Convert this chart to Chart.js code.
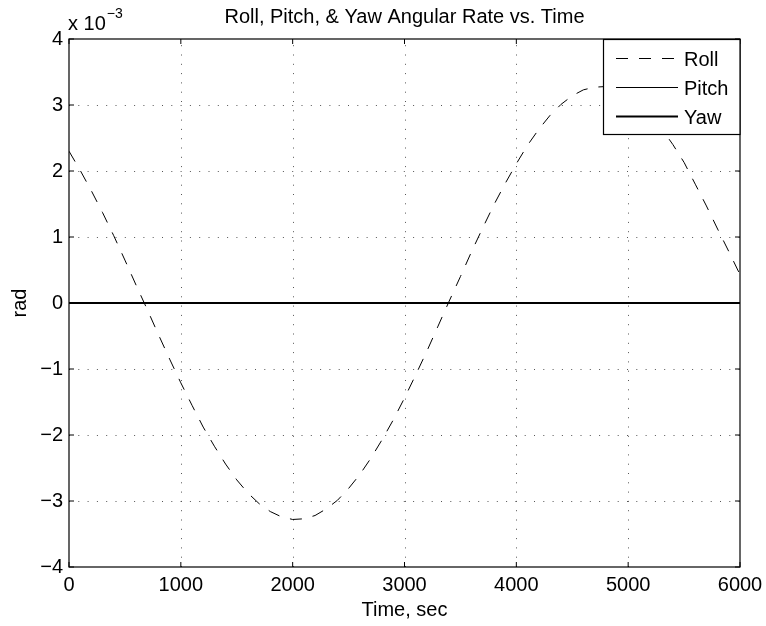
<!DOCTYPE html>
<html>
<head>
<meta charset="utf-8">
<title>Roll, Pitch, & Yaw Angular Rate vs. Time</title>
<script src="https://cdn.jsdelivr.net/npm/chart.js@4/dist/chart.umd.min.js"></script>
<style>
  html, body { margin: 0; padding: 0; background: #fff; }
  canvas { display: block; }
</style>
</head>
<body>
<canvas id="rates" width="766" height="626"></canvas>
<script>
// Sample times (s) for the roll channel
const rollTime = [
  0, 100, 200, 300, 400, 500, 600, 700, 800, 900,
  1000, 1100, 1200, 1300, 1400, 1500, 1600, 1700, 1800, 1900,
  2000, 2100, 2200, 2300, 2400, 2500, 2600, 2700, 2800, 2900,
  3000, 3100, 3200, 3300, 3400, 3500, 3600, 3700, 3800, 3900,
  4000, 4100, 4200, 4300, 4400, 4500, 4600, 4700, 4800, 4900,
  5000, 5100, 5200, 5300, 5400, 5500, 5600, 5700, 5800, 5900, 6000
];
// Roll angular rate, in units of 1e-3 rad
const rollRate = [
  2.30, 2.01, 1.70, 1.37, 1.02, 0.65, 0.27, -0.10, -0.48, -0.85,
  -1.21, -1.55, -1.88, -2.17, -2.44, -2.68, -2.88, -3.04, -3.16, -3.24,
  -3.28, -3.27, -3.22, -3.12, -2.99, -2.81, -2.60, -2.35, -2.07, -1.77,
  -1.44, -1.09, -0.73, -0.35, 0.03, 0.40, 0.78, 1.14, 1.49, 1.81,
  2.11, 2.39, 2.63, 2.84, 3.01, 3.14, 3.23, 3.27, 3.28, 3.23,
  3.15, 3.02, 2.85, 2.64, 2.40, 2.13, 1.80, 1.47, 1.12, 0.78, 0.43
];
// Pitch and yaw rates stay at zero over the whole run
const pitchTime = [0, 6000];
const pitchRate = [0, 0];
const yawTime = [0, 6000];
const yawRate = [0, 0];

// Axis ticks
const xTicks = [0, 1000, 2000, 3000, 4000, 5000, 6000];
const yTicks = [-4, -3, -2, -1, 0, 1, 2, 3, 4];

const titleText = 'Roll, Pitch, & Yaw Angular Rate vs. Time';
const xLabel = 'Time, sec';
const yLabel = 'rad';
const yExponent = '\u22123';

const FONT = '"Liberation Sans", Arial, Helvetica, sans-serif';

function pairs(xs, ys) {
  return xs.map((x, i) => ({ x: x, y: ys[i] }));
}

// Dotted grid, MATLAB-style box with inward ticks, titles and a boxed legend
const matlabAxes = {
  id: 'matlabAxes',
  beforeDatasetsDraw(chart) {
    const { ctx, chartArea: a, scales: { x, y } } = chart;
    ctx.save();
    ctx.strokeStyle = '#555';
    ctx.lineWidth = 1;
    ctx.setLineDash([1, 8.3]);
    xTicks.forEach(v => {
      if (v === x.min || v === x.max) return;
      const px = Math.round(x.getPixelForValue(v)) + 0.5;
      ctx.beginPath();
      ctx.moveTo(px, a.bottom);
      ctx.lineTo(px, a.top);
      ctx.stroke();
    });
    yTicks.forEach(v => {
      if (v === y.min || v === y.max) return;
      const py = Math.round(y.getPixelForValue(v)) + 0.5;
      ctx.beginPath();
      ctx.moveTo(a.left, py);
      ctx.lineTo(a.right, py);
      ctx.stroke();
    });
    ctx.restore();
  },
  afterDatasetsDraw(chart) {
    const { ctx, chartArea: a, scales: { x, y } } = chart;
    ctx.save();
    ctx.strokeStyle = '#000';
    ctx.lineWidth = 1.2;
    ctx.setLineDash([]);
    ctx.strokeRect(a.left, a.top, a.right - a.left, a.bottom - a.top);
    const tl = 5;
    ctx.lineWidth = 1;
    xTicks.forEach(v => {
      const px = x.getPixelForValue(v);
      ctx.beginPath();
      ctx.moveTo(px, a.bottom); ctx.lineTo(px, a.bottom - tl);
      ctx.moveTo(px, a.top); ctx.lineTo(px, a.top + tl);
      ctx.stroke();
    });
    yTicks.forEach(v => {
      const py = y.getPixelForValue(v);
      ctx.beginPath();
      ctx.moveTo(a.left, py); ctx.lineTo(a.left + tl, py);
      ctx.moveTo(a.right, py); ctx.lineTo(a.right - tl, py);
      ctx.stroke();
    });

    // Titles
    ctx.fillStyle = '#000';
    ctx.textBaseline = 'alphabetic';
    ctx.font = '20px ' + FONT;
    ctx.textAlign = 'center';
    const cx = (a.left + a.right) / 2;
    ctx.fillText(titleText, cx, 23);
    ctx.fillText(xLabel, cx, 616);
    ctx.save();
    ctx.translate(26, (a.top + a.bottom) / 2);
    ctx.rotate(-Math.PI / 2);
    ctx.fillText(yLabel, 0, 0);
    ctx.restore();

    // Exponent above the y axis
    ctx.textAlign = 'left';
    ctx.font = '20px ' + FONT;
    const base = 'x 10';
    ctx.fillText(base, a.left - 1, 30);
    const w = ctx.measureText(base).width;
    ctx.font = '14px ' + FONT;
    ctx.fillText(yExponent, a.left - 1 + w + 1, 18);
    ctx.restore();
  },
  afterDraw(chart) {
    const { ctx, chartArea: a } = chart;
    const box = { left: 603.5, top: a.top + 0.5, right: a.right, bottom: 134.5 };
    ctx.save();
    ctx.fillStyle = '#fff';
    ctx.fillRect(box.left, box.top, box.right - box.left, box.bottom - box.top);
    ctx.strokeStyle = '#000';
    ctx.lineWidth = 1.2;
    ctx.setLineDash([]);
    ctx.strokeRect(box.left, box.top, box.right - box.left, box.bottom - box.top);
    const rows = [58.5, 87.5, 116.5];
    chart.data.datasets.forEach((ds, i) => {
      const ry = rows[i];
      ctx.beginPath();
      ctx.strokeStyle = ds.borderColor;
      ctx.lineWidth = ds.borderWidth;
      ctx.setLineDash(ds.borderDash || []);
      ctx.lineDashOffset = 0;
      ctx.moveTo(616, ry);
      ctx.lineTo(678, ry);
      ctx.stroke();
      ctx.setLineDash([]);
      ctx.fillStyle = '#000';
      ctx.font = '20px ' + FONT;
      ctx.textAlign = 'left';
      ctx.textBaseline = 'alphabetic';
      ctx.fillText(ds.label, 684, ry + 7.5);
    });
    ctx.restore();
  }
};

new Chart(document.getElementById('rates'), {
  type: 'line',
  data: {
    datasets: [
      {
        label: 'Roll',
        data: pairs(rollTime, rollRate),
        borderColor: '#000',
        borderWidth: 1,
        borderDash: [12, 11],
        pointRadius: 0,
        tension: 0,
        fill: false
      },
      {
        label: 'Pitch',
        data: pairs(pitchTime, pitchRate),
        borderColor: '#000',
        borderWidth: 1,
        pointRadius: 0,
        tension: 0,
        fill: false
      },
      {
        label: 'Yaw',
        data: pairs(yawTime, yawRate),
        borderColor: '#000',
        borderWidth: 2,
        pointRadius: 0,
        tension: 0,
        fill: false
      }
    ]
  },
  options: {
    responsive: false,
    animation: false,
    devicePixelRatio: 1,
    layout: { padding: { left: 0, right: 26, top: 39, bottom: 0 } },
    plugins: {
      legend: { display: false },
      title: { display: false },
      tooltip: { enabled: false }
    },
    scales: {
      x: {
        type: 'linear',
        min: 0,
        max: 6000,
        afterBuildTicks(s) { s.ticks = xTicks.map(v => ({ value: v })); },
        ticks: {
          color: '#000',
          font: { family: FONT, size: 20 },
          padding: 6,
          maxRotation: 0,
          autoSkip: false,
          callback: v => String(v)
        },
        grid: { display: false, drawTicks: false },
        border: { display: false },
        afterFit(s) { s.height = 59; s.paddingLeft = 0; s.paddingRight = 0; }
      },
      y: {
        type: 'linear',
        min: -4,
        max: 4,
        afterBuildTicks(s) { s.ticks = yTicks.map(v => ({ value: v })); },
        ticks: {
          color: '#000',
          font: { family: FONT, size: 20 },
          padding: 6,
          autoSkip: false,
          callback: v => String(v).replace('-', '\u2212')
        },
        grid: { display: false, drawTicks: false },
        border: { display: false },
        afterFit(s) { s.width = 69; s.paddingTop = 0; s.paddingBottom = 0; }
      }
    }
  },
  plugins: [matlabAxes]
});
</script>
</body>
</html>
